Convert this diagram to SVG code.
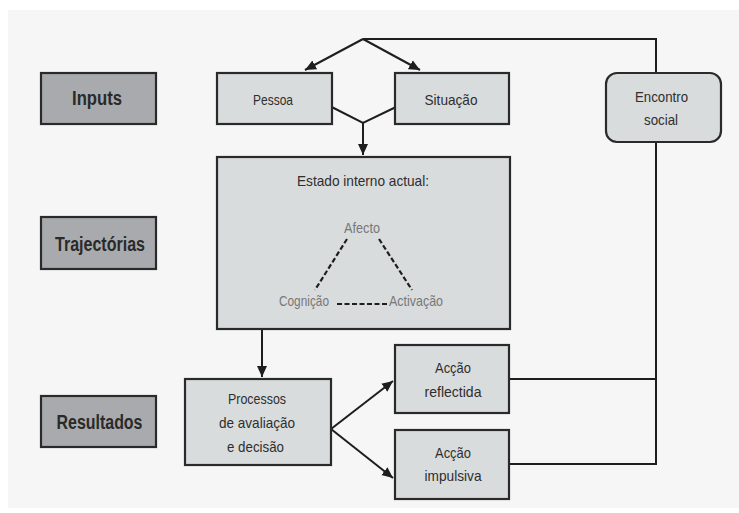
<svg xmlns="http://www.w3.org/2000/svg" width="739" height="513" viewBox="0 0 739 513">
<defs>
<marker id="ah" markerUnits="userSpaceOnUse" markerWidth="12" markerHeight="12" viewBox="0 0 12 12" refX="11" refY="6" orient="auto">
<path d="M0,1 L11,6 L0,11 Z" fill="#1e1e1e"/>
</marker>
<style>
.bg{fill:#f6f6f6}
.box{fill:#d9dcdd;stroke:#2a2a2a;stroke-width:2.2}
.dark{fill:#a9aaad;stroke:#2a2a2a;stroke-width:2.2}
.t{font-family:"Liberation Sans",Arial,sans-serif;font-size:15px;fill:#2e2e2e;text-anchor:middle}
.h{font-family:"Liberation Sans",Arial,sans-serif;font-size:20px;font-weight:bold;fill:#2a2a2a;text-anchor:middle}
.g{font-family:"Liberation Sans",Arial,sans-serif;font-size:15px;fill:#777;text-anchor:middle}
.c{fill:none;stroke:#1e1e1e;stroke-width:2}
.d{fill:none;stroke:#1e1e1e;stroke-width:2.2;stroke-dasharray:5 2.5}
</style>
</defs>
<rect class="bg" x="8" y="10" width="731" height="498"/>
<g id="connectors">
<path class="c" d="M656,73 V39 H363"/>
<path class="c" d="M363,39 L305,70" marker-end="url(#ah)"/>
<path class="c" d="M363,39 L420,70" marker-end="url(#ah)"/>
<path class="c" d="M331.7,107 L363,123 L396,107"/>
<path class="c" d="M363,123 V155" marker-end="url(#ah)"/>
<path class="c" d="M262,329 V377" marker-end="url(#ah)"/>
<path class="c" d="M331,429 L393,381" marker-end="url(#ah)"/>
<path class="c" d="M331,429 L393,478" marker-end="url(#ah)"/>
<path class="c" d="M509,379 H656"/>
<path class="c" d="M509,464 H656 V142"/>
</g>
<g id="inputs"><rect class="dark" x="41" y="73" width="115" height="51"/><text class="h" x="97" y="105" textLength="50" lengthAdjust="spacingAndGlyphs">Inputs</text></g>
<g id="trajectorias"><rect class="dark" x="41" y="217" width="115" height="52"/><text class="h" x="100" y="251" textLength="90" lengthAdjust="spacingAndGlyphs">Trajectórias</text></g>
<g id="resultados"><rect class="dark" x="41" y="396" width="115" height="51"/><text class="h" x="99.5" y="429" textLength="86" lengthAdjust="spacingAndGlyphs">Resultados</text></g>
<g id="pessoa"><rect class="box" x="217" y="73" width="115" height="51"/><text class="t" x="273" y="105" textLength="40" lengthAdjust="spacingAndGlyphs">Pessoa</text></g>
<g id="situacao"><rect class="box" x="395" y="73" width="114" height="51"/><text class="t" x="451" y="105" textLength="53" lengthAdjust="spacingAndGlyphs">Situação</text></g>
<g id="encontro"><rect class="box" x="606" y="73" width="115" height="69" rx="11"/><text class="t" x="661.5" y="102" textLength="53" lengthAdjust="spacingAndGlyphs">Encontro</text><text class="t" x="661" y="125" textLength="34" lengthAdjust="spacingAndGlyphs">social</text></g>
<g id="estado"><rect class="box" x="217" y="157" width="293" height="172"/>
<text class="t" x="363" y="186" textLength="132" lengthAdjust="spacingAndGlyphs">Estado interno actual:</text>
<text class="g" x="362" y="233" textLength="36" lengthAdjust="spacingAndGlyphs">Afecto</text>
<text class="g" x="304" y="306" textLength="50" lengthAdjust="spacingAndGlyphs">Cognição</text>
<text class="g" x="416" y="306" textLength="54" lengthAdjust="spacingAndGlyphs">Activação</text>
<path class="d" d="M347,239 L315,290 M379,239 L412,290 M337,304 H389"/>
</g>
<g id="processos"><rect class="box" x="185" y="379" width="146" height="86"/><text class="t" x="257" y="404" textLength="58" lengthAdjust="spacingAndGlyphs">Processos</text><text class="t" x="257" y="428" textLength="76" lengthAdjust="spacingAndGlyphs">de avaliação</text><text class="t" x="255.5" y="452" textLength="57" lengthAdjust="spacingAndGlyphs">e decisão</text></g>
<g id="reflectida"><rect class="box" x="395" y="345" width="114" height="68"/><text class="t" x="453" y="373" textLength="36" lengthAdjust="spacingAndGlyphs">Acção</text><text class="t" x="453" y="397" textLength="57" lengthAdjust="spacingAndGlyphs">reflectida</text></g>
<g id="impulsiva"><rect class="box" x="395" y="430" width="114" height="69"/><text class="t" x="453" y="458" textLength="36" lengthAdjust="spacingAndGlyphs">Acção</text><text class="t" x="453" y="481" textLength="57" lengthAdjust="spacingAndGlyphs">impulsiva</text></g>
</svg>
